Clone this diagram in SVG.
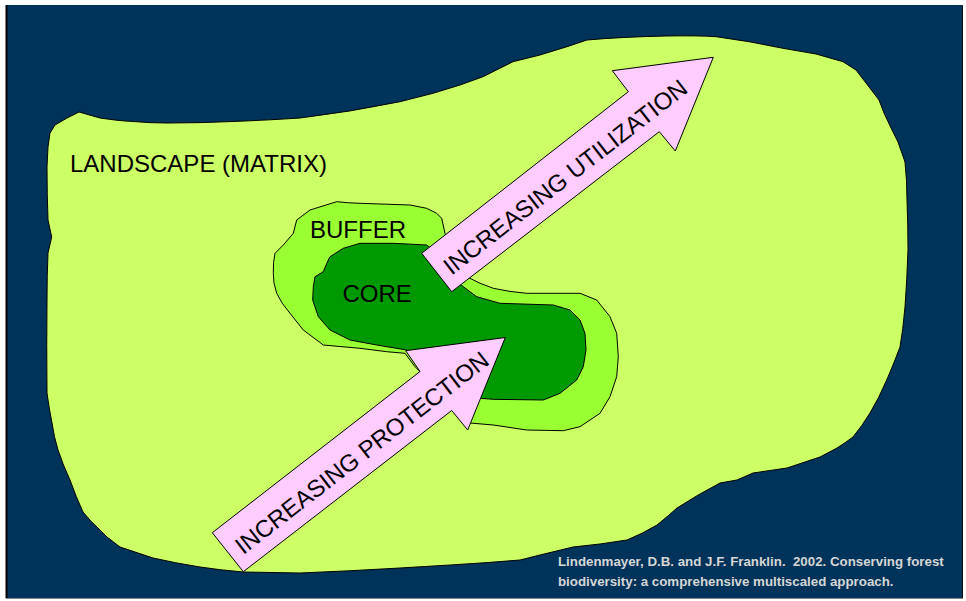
<svg xmlns="http://www.w3.org/2000/svg" width="966" height="601" viewBox="0 0 966 601">
<style>
.lbl{font-family:"Liberation Sans",Arial,sans-serif;font-size:24px;fill:#000}
.cite{font-family:"Liberation Sans",Arial,sans-serif;font-size:13.3px;font-weight:bold;fill:#D6D6D6;white-space:pre}
.edge{stroke:#000;stroke-width:1;stroke-linejoin:round}
.arrow{fill:#FFCCFF;stroke:#000;stroke-width:1;stroke-linejoin:miter}
</style>
<rect x="0" y="0" width="966" height="601" fill="#FFFFFF"/>
<rect x="6" y="5" width="957" height="593" fill="#00335A"/>
<line x1="6.5" y1="5" x2="6.5" y2="598" stroke="#000" stroke-width="2"/>
<line x1="962.5" y1="5" x2="962.5" y2="598" stroke="#111" stroke-width="1"/>
<line x1="6" y1="598.5" x2="963" y2="598.5" stroke="#888" stroke-width="1"/>
<g id="landscape">
<path class="edge" fill="#CCFF66" d="M79,112 L100,118 Q120,121 133,121.5 Q150,123 167,123 Q200,123 233,121.5 Q270,120 300,118 Q350,112 400,101.7 L433,93.3 L460,85 L483,76.7 L513,61.7 L540,55 L567,46.7 L587,40 Q620,37 666,36 Q700,35.5 716,36.7 L749,41.7 L783,48.3 L816,54 L843,61.7 L856,70 L866,83 L879,100 L884,113 L892,130 L898,142 L905,162 Q907,180 907,200 Q908,225 908,250 Q907,280 905,307 Q903,330 900,347 L895,360 Q891,370 886.7,380 Q879,398 870,413 Q862,426 853,437 Q845,443 837,448 L820,457 L787,468 L753,473 L737,480 L720,483 Q697,495 677,508 Q667,517 657,525 Q642,534 627,540 L600,544 L573,547 L540,555 L520,560 Q485,563 450,565 L400,568 Q350,571 300,573 L243,572 Q220,570 200,567 Q175,563 153,558 L120,547 L107,537 L100,530 Q90,521 83,512 Q76,497 70,480 Q63,465 58,450 Q54,437 52,423 Q49,408 47,393 Q46.5,345 47,300 Q47,275 48,253 L51.7,237 L48,220 Q47,195 47,167 L48,147 L50,133 L55,125 L67,118 Z"/>
</g>
<g id="buffer">
<path class="edge" fill="#99FF33" d="M336.7,201.7 Q348,203 360,203.3 L410,205 L426.7,208.3 L436.7,213.3 L441.7,218.3 L445,233.3 L455,262 L466.7,276.7 Q480,284 493.3,288.3 Q510,292 526.7,293.3 L580,293.3 L596.7,300 L610,316.7 L616.7,333.3 L618.3,356.7 L616.7,376.7 L610,396.7 L600,413.3 L580,426.7 L563.3,430.7 L526.7,430 L493.3,425 L470,423 L430,385 L420,371.7 L415,366.7 L405,353.3 L386.7,351.7 L360,348.3 L323.3,345 L303.3,330 L290,313.3 Q281,303 276.7,293.3 Q273,283 273.3,273.3 Q273,262 275,253.3 L283.3,245 L293.3,233.3 L296.7,220 L310,210 Z"/>
</g>
<g id="core">
<path class="edge" fill="#009900" d="M330,256.7 L343.3,248.3 L360,243.3 L393.3,243.3 L426.7,245 L440,255 L455,280 L463.3,286.7 L476.7,296.7 L500,303.3 L553.3,305 L570,310 L580,320 L585,333.3 L586,350 L583.3,366.7 L576.7,380 L560,393.3 L543.3,400 L493.3,399.3 L480,398.3 L430,370 L406.7,350 L376.7,345 L350,340 L330,330 L318.3,316.7 L312.7,300 L313.3,286.7 L315,276.7 L323.3,271.7 L328.3,260 Z"/>
</g>
<g id="labels">
<text class="lbl" x="70" y="172.3">LANDSCAPE (MATRIX)</text>
<text class="lbl" x="310" y="237.7">BUFFER</text>
<text class="lbl" x="342.5" y="301.7">CORE</text>
</g>
<g id="connectors">
<g id="arrow-utilization">
<polygon class="arrow" points="421.7,253.3 628.3,91.7 612.3,70.7 713.3,57.3 675.3,151 659.3,131.7 451.7,291.7"/>
<text class="lbl" text-anchor="middle" transform="translate(565,176.7) rotate(-37.8)" x="0" y="8.6">INCREASING UTILIZATION</text>
</g>
<g id="arrow-protection">
<polygon class="arrow" points="212.3,532.7 420,371.5 405.7,350.7 505.3,337.5 467.7,430 451.7,410.5 243.3,571.7"/>
<text class="lbl" text-anchor="middle" transform="translate(361.7,452.5) rotate(-37.8)" x="0" y="8.6">INCREASING PROTECTION</text>
</g>
</g>
<g id="citation">
<text class="cite" x="558" y="565.5">Lindenmayer, D.B. and J.F. Franklin.  2002. Conserving forest</text>
<text class="cite" x="558" y="586">biodiversity: a comprehensive multiscaled approach.</text>
</g>
</svg>
